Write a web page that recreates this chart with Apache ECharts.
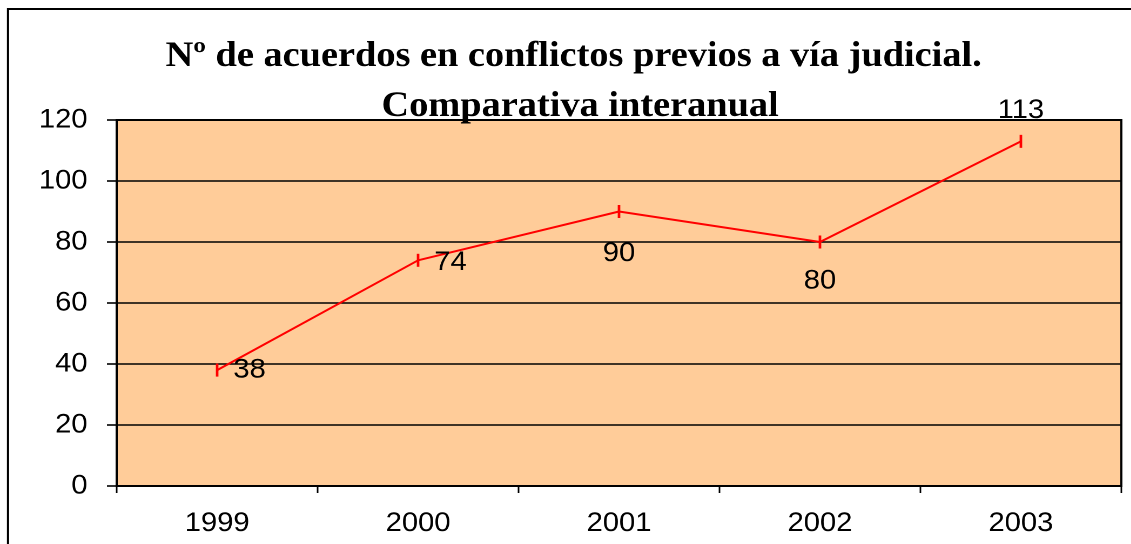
<!DOCTYPE html>
<html>
<head>
<meta charset="utf-8">
<script src="https://cdn.jsdelivr.net/npm/echarts@6/dist/echarts.min.js"></script>
<style>
  html, body { margin: 0; padding: 0; background: #fff; overflow: hidden; }
  /* the chart is laid out slightly narrower and stretched sideways to the page width */
  #chart { width: 1047px; height: 544px; transform: scaleX(1.0803); transform-origin: 0 0; }
</style>
</head>
<body>
<div id="chart"></div>
<script>
// Agreements reached in disputes before going to court, year by year
const years = ['1999', '2000', '2001', '2002', '2003'];
const agreements = [38, 74, 90, 80, 113];
const yTicks = { min: 0, max: 120, step: 20 };

// Where each value label sits relative to its point (pixels)
const labelOffsets = [[30, 0], [30, 2], [0, 42], [0, 39], [0, -31]];

const titleLines = ['Nº de acuerdos en conflictos previos a vía judicial.', 'Comparativa interanual'];

const sans = 'Liberation Sans, Arial, sans-serif';
const serif = 'Liberation Serif, Times New Roman, serif';

const chart = echarts.init(document.getElementById('chart'), null, { renderer: 'canvas', devicePixelRatio: 2 });

chart.setOption({
  animation: false,
  backgroundColor: '#ffffff',
  grid: {
    left: 108, right: 9, top: 120, bottom: 58,
    show: true,
    backgroundColor: '#FFCC99',
    borderColor: '#000',
    borderWidth: 2
  },
  graphic: [
    {
      type: 'rect', z: 100, silent: true,
      shape: { x: 7.4, y: 9, width: 1300, height: 700 },
      style: { fill: null, stroke: '#000', lineWidth: 2 }
    },
    {
      type: 'text', z: 100, x: 531, y: 57,
      style: {
        text: titleLines[0], fill: '#000',
        font: 'bold 35.5px ' + serif,
        textAlign: 'center', textVerticalAlign: 'middle'
      }
    },
    {
      type: 'text', z: 100, x: 537, y: 107,
      style: {
        text: titleLines[1], fill: '#000',
        font: 'bold 35.5px ' + serif,
        textAlign: 'center', textVerticalAlign: 'middle'
      }
    }
  ],
  xAxis: {
    type: 'category',
    data: years,
    boundaryGap: true,
    axisLine: { lineStyle: { color: '#000', width: 2 } },
    axisTick: { show: true, length: 7, alignWithLabel: false, lineStyle: { color: '#000', width: 1.5 } },
    axisLabel: { color: '#000', fontFamily: sans, fontSize: 27, margin: 24 },
    splitLine: { show: false }
  },
  yAxis: {
    type: 'value',
    min: yTicks.min, max: yTicks.max, interval: yTicks.step,
    axisLine: { show: true, lineStyle: { color: '#000', width: 1.8 } },
    axisTick: { show: true, length: 9, lineStyle: { color: '#000', width: 1.6 } },
    axisLabel: { color: '#000', fontFamily: sans, fontSize: 27, margin: 27 },
    splitLine: { show: true, lineStyle: { color: '#000', width: 1.5 } }
  },
  series: [{
    type: 'line',
    data: agreements.map((v, i) => ({
      value: v,
      label: { offset: labelOffsets[i] }
    })),
    lineStyle: { color: '#FF0000', width: 2 },
    itemStyle: { color: '#FF0000' },
    symbol: 'rect',
    symbolSize: [2.4, 13],
    showSymbol: true,
    label: {
      show: true,
      position: 'inside',
      color: '#000',
      fontFamily: sans,
      fontSize: 27
    },
    z: 5
  }]
});
</script>
</body>
</html>
